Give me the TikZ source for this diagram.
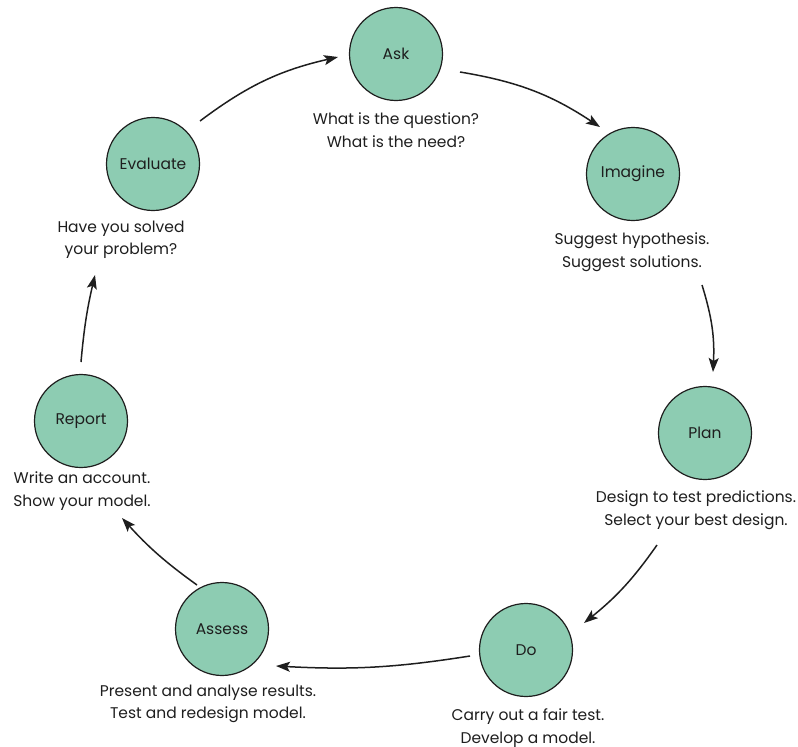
\documentclass[tikz,border=0pt]{standalone}
\usepackage{fontspec}
\setmainfont{Poppins}
\usetikzlibrary{arrows.meta}
\definecolor{mint}{RGB}{141,204,178}
\definecolor{ink}{RGB}{30,30,30}
\begin{document}
\begin{tikzpicture}[x=1pt,y=-1pt,
  stage/.style={circle, draw=ink, line width=1.2pt, fill=mint, minimum size=93pt, inner sep=0pt, font=\fontsize{15.5}{17}\selectfont, text=ink},
  caption/.style={align=center, font=\fontsize{15.5}{22.5}\selectfont, text=ink, inner sep=0pt},
  flow/.style={-{Stealth[length=14pt,width=10pt,inset=3pt]}, line width=1.5pt, draw=ink}]
\useasboundingbox (0,0) rectangle (798,747);

\node[stage] (ask) at (396,54) {Ask};
\node[stage] (imagine) at (633,174) {Imagine};
\node[stage] (plan) at (705,433) {Plan};
\node[stage] (do) at (526,650) {Do};
\node[stage] (assess) at (222,629) {Assess};
\node[stage] (report) at (81,421) {Report};
\node[stage] (evaluate) at (153,164) {Evaluate};

\node[caption] (askt) at (396,130) {What is the question?\\What is the need?};
\node[caption] (imaginet) at (632,252) {Suggest hypothesis.\\Suggest solutions.};
\node[caption] (plant) at (696,510) {Design to test predictions.\\Select your best design.};
\node[caption] (dot) at (528,728) {Carry out a fair test.\\Develop a model.};
\node[caption] (assesst) at (208,704) {Present and analyse results.\\Test and redesign model.};
\node[caption] (reportt) at (82,491) {Write an account.\\Show your model.};
\node[caption] (evaluatet) at (121,240) {Have you solved\\your problem?};

\coordinate (c1s) at (200,121); \coordinate (c1t) at (338,57);
\coordinate (c2s) at (460,72);  \coordinate (c2t) at (600,127);
\coordinate (c3s) at (702,285); \coordinate (c3t) at (713,372);
\coordinate (c4s) at (657,545); \coordinate (c4t) at (584,623);
\coordinate (c5s) at (470,656); \coordinate (c5t) at (276,666);
\coordinate (c6s) at (197,585); \coordinate (c6t) at (122,518);
\coordinate (c7s) at (81,362);  \coordinate (c7t) at (95,275);

\draw[flow] (c1s) to[bend left=12] (c1t);
\draw[flow] (c2s) to[bend left=12] (c2t);
\draw[flow] (c3s) to[bend left=10] (c3t);
\draw[flow] (c4s) to[bend left=8] (c4t);
\draw[flow] (c5s) to[bend left=6] (c5t);
\draw[flow] (c6s) to[bend left=6] (c6t);
\draw[flow] (c7s) to[bend left=4] (c7t);
\end{tikzpicture}
\end{document}
